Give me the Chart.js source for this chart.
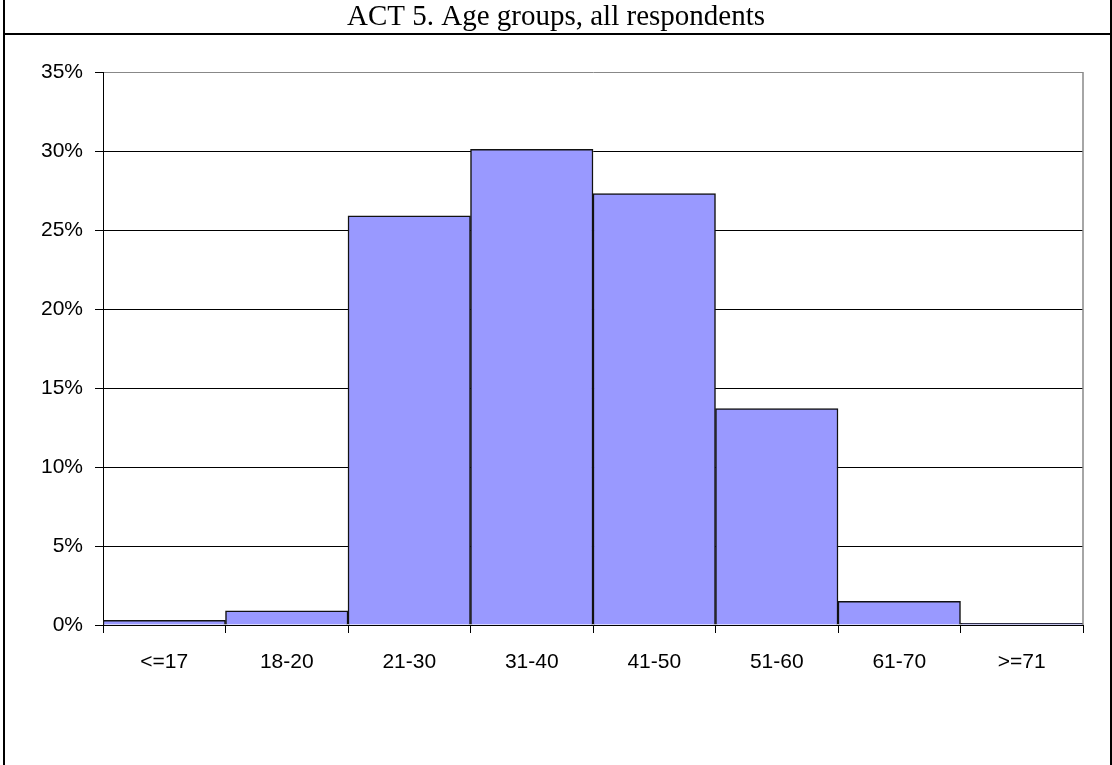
<!DOCTYPE html>
<html>
<head>
<meta charset="utf-8">
<title>ACT 5. Age groups</title>
<script src="https://cdn.jsdelivr.net/npm/chart.js@4.4.1/dist/chart.umd.min.js"></script>
<style>
  html, body { margin: 0; padding: 0; background: #fff; overflow: hidden; }
  #chart-idade { display: block; }
</style>
</head>
<body>
<canvas id="chart-idade" width="1112" height="765"></canvas>
<script>
const titulo = 'ACT 5. Age groups, all respondents'
const faixas = ['<=17', '18-20', '21-30', '31-40', '41-50', '51-60', '61-70', '>=71']
const percentuais = [0.3, 0.9, 25.9, 30.1, 27.3, 13.7, 1.5, 0.1]

const corBarra = '#9999ff'
const cinza = '#888888'
const fonteEixo = { family: "'Liberation Sans', Arial, sans-serif", size: 21 }

// moldura da pagina (borda esquerda/direita + linha abaixo do titulo) e borda cinza da area
const moldura = {
    id: 'moldura',
    beforeDraw(chart) {
        const ctx = chart.ctx
        ctx.save()
        ctx.fillStyle = '#fff'
        ctx.fillRect(0, 0, chart.width, chart.height)
        ctx.strokeStyle = '#000'
        ctx.lineWidth = 2
        ctx.beginPath()
        ctx.moveTo(4, 0); ctx.lineTo(4, chart.height)
        ctx.moveTo(1111, 0); ctx.lineTo(1111, chart.height)
        ctx.moveTo(3, 34); ctx.lineTo(chart.width, 34)
        ctx.stroke()
        ctx.restore()
    },
    afterDatasetsDraw(chart) {
        const a = chart.chartArea
        const ctx = chart.ctx
        ctx.save()
        ctx.strokeStyle = cinza
        ctx.lineWidth = 1.5
        ctx.beginPath()
        ctx.moveTo(a.right, a.top)
        ctx.lineTo(a.right, a.bottom)
        ctx.stroke()
        ctx.restore()
    }
}

const chartIdade = new Chart(document.getElementById('chart-idade'), {
    type: 'bar',
    data: {
        labels: faixas,
        datasets: [{
            label: 'Respondents',
            data: percentuais,
            backgroundColor: corBarra,
            borderColor: '#111',
            borderWidth: 1.5,
            barPercentage: 1,
            categoryPercentage: 1
        }]
    },
    options: {
        responsive: false,
        animation: false,
        devicePixelRatio: 1,
        layout: { padding: { left: 29, right: 29, top: 0, bottom: 0 } },
        plugins: {
            legend: { display: false },
            tooltip: { enabled: false },
            title: {
                display: true,
                text: titulo,
                color: '#000',
                font: { family: "'Liberation Serif', 'Times New Roman', serif", size: 29, weight: 'normal' },
                padding: { top: 0, bottom: 37.2 }
            }
        },
        scales: {
            x: {
                grid: {
                    drawOnChartArea: false,
                    drawTicks: true,
                    tickLength: 8,
                    color: '#000',
                    offset: true
                },
                border: { color: '#000', width: 1 },
                ticks: { color: '#000', font: fonteEixo, padding: 17, maxRotation: 0 },
                afterFit(scale) { scale.height = 140 }
            },
            y: {
                min: 0,
                max: 35,
                ticks: {
                    stepSize: 5,
                    color: '#000',
                    font: fonteEixo,
                    padding: 12,
                    callback: (v) => v + '%'
                },
                grid: {
                    color: (c) => c.tick && c.tick.value === 35 ? cinza : '#000',
                    tickColor: '#000',
                    tickLength: 8,
                    lineWidth: 1
                },
                border: { color: '#000', width: 1 },
                afterFit(scale) { scale.width = 74 }
            }
        }
    },
    plugins: [moldura]
})
</script>
</body>
</html>
